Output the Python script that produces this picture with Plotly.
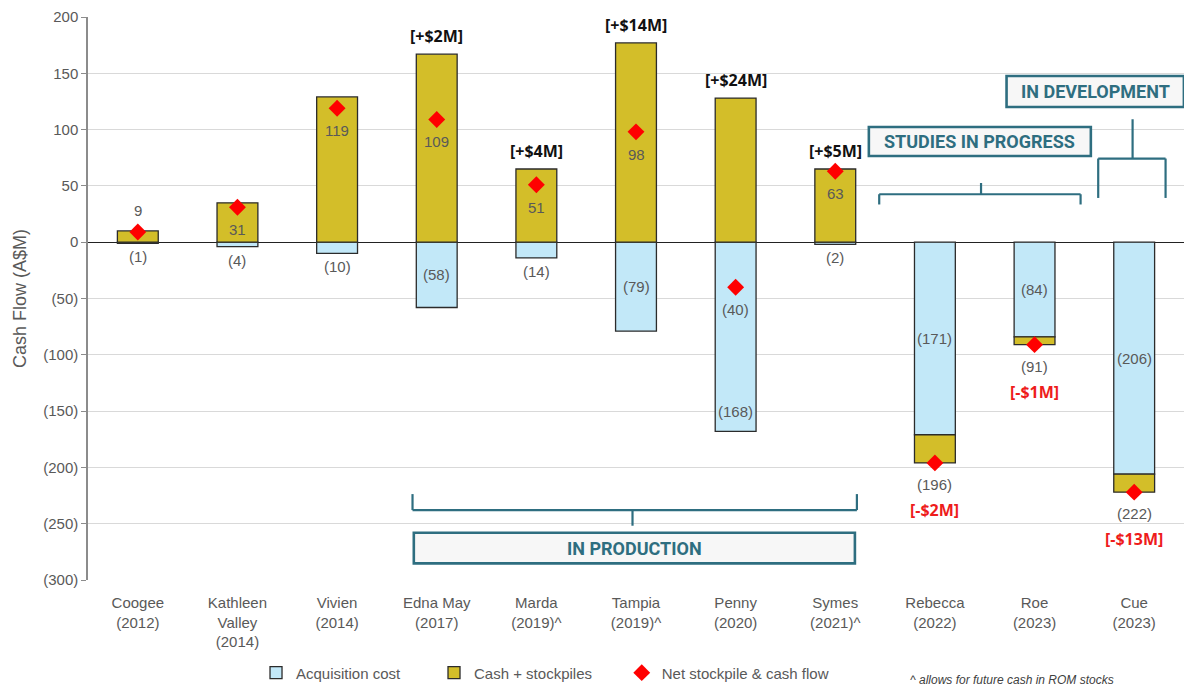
import plotly.graph_objects as go

categories = ["Coogee<br>(2012)", "Kathleen<br>Valley<br>(2014)", "Vivien<br>(2014)", "Edna May<br>(2017)",
              "Marda<br>(2019)^", "Tampia<br>(2019)^", "Penny<br>(2020)", "Symes<br>(2021)^",
              "Rebecca<br>(2022)", "Roe<br>(2023)", "Cue<br>(2023)"]
acquisition = [-1, -4, -10, -58, -14, -79, -168, -2, -171, -84, -206]
cash_stock = [10, 35, 129, 167, 65, 177, 128, 65, -25, -7, -16]
net_flow = [9, 31, 119, 109, 51, 98, -40, 63, -196, -91, -222]
adjustments = ["", "", "", "[+$2M]", "[+$4M]", "[+$14M]", "[+$24M]", "[+$5M]", "[-$2M]", "[-$1M]", "[-$13M]"]
y_ticks = [-300, -250, -200, -150, -100, -50, 0, 50, 100, 150, 200]
y_ticktext = ["(300)", "(250)", "(200)", "(150)", "(100)", "(50)", "0", "50", "100", "150", "200"]

GRAY = "#595959"
TEAL = "#2e6e80"
FONT = "Liberation Sans, Arial, sans-serif"

def fmt(v):
    return "(%d)" % abs(v) if v < 0 else str(v)

idx = list(range(len(categories)))

fig = go.Figure()
fig.add_trace(go.Bar(x=idx, y=acquisition, name="Acquisition cost", width=0.41, legend="legend",
                     marker=dict(color="#c2e8f8", line=dict(color="#2b2b2b", width=1.3))))
fig.add_trace(go.Bar(x=idx, y=cash_stock, name="Cash + stockpiles", width=0.41, legend="legend2",
                     marker=dict(color="#d3be29", line=dict(color="#2b2b2b", width=1.3))))
fig.add_trace(go.Scatter(x=idx, y=net_flow, name="Net stockpile & cash flow", mode="markers", legend="legend3",
                         marker=dict(symbol="diamond", color="#ff0000", size=13)))

ann = []
def lab(x, y, text, **kw):
    d = dict(x=x, y=y, xref="x", yref="y", text=text, showarrow=False,
             font=dict(family=FONT, size=15, color=GRAY), xanchor="center", yanchor="middle")
    d.update(kw)
    ann.append(d)

for i in idx:
    a, c, n = acquisition[i], cash_stock[i], net_flow[i]
    if c > 0:
        if abs(a) < 20:
            lab(i, a - 12, fmt(a))
        elif n < 0:
            lab(i, a + 18, fmt(a))
        else:
            lab(i, a / 2, fmt(a))
        if c < 15:
            lab(i, n + 19, fmt(n))
        else:
            lab(i, n - 20, fmt(n))
        if adjustments[i]:
            lab(i, c + 16, adjustments[i],
                font=dict(family="Open Sans, Liberation Sans, sans-serif", size=16, color="#111111", weight="bold"))
    else:
        lab(i, a / 2, fmt(a))
        lab(i, n - 19, fmt(n))
        if adjustments[i]:
            lab(i, n - 42, adjustments[i],
                font=dict(family="Open Sans, Liberation Sans, sans-serif", size=16, color="#ee1c1c", weight="bold"))

shapes = []
def line(x0, y0, x1, y1):
    shapes.append(dict(type="line", xref="x", yref="y", x0=x0, y0=y0, x1=x1, y1=y1,
                       line=dict(color=TEAL, width=2.2)))

def box(x0, y0, x1, y1, text):
    shapes.append(dict(type="rect", xref="x", yref="y", x0=x0, y0=y0, x1=x1, y1=y1,
                       fillcolor="#f7f7f7", line=dict(color=TEAL, width=2.6)))
    ann.append(dict(x=(x0 + x1) / 2, y=(y0 + y1) / 2, xref="x", yref="y", text=text, showarrow=False,
                    font=dict(family="Roboto, sans-serif", size=18, color=TEAL, weight="bold"),
                    xanchor="center", yanchor="middle"))

# In production bracket
line(2.757, -223.7, 2.757, -237.9)
line(7.217, -223.7, 7.217, -237.9)
line(2.757, -237.9, 7.217, -237.9)
line(4.965, -237.9, 4.965, -251.8)
box(2.77, -258.0, 7.197, -285.2, "IN PRODUCTION")

# Studies bracket
line(7.441, 33.5, 7.441, 42.6)
line(9.462, 33.5, 9.462, 42.6)
line(7.441, 42.6, 9.462, 42.6)
line(8.463, 42.6, 8.463, 52.6)
box(7.337, 76.6, 9.565, 102.3, "STUDIES IN PROGRESS")

# Development bracket
line(9.639, 39.3, 9.639, 74.3)
line(10.315, 39.3, 10.315, 74.3)
line(9.639, 74.3, 10.315, 74.3)
line(9.984, 74.3, 9.984, 109.2)
box(8.719, 120.1, 10.499, 147.6, "IN DEVELOPMENT")

ann.append(dict(x=0.748, y=-0.177, xref="paper", yref="paper", xanchor="left", yanchor="middle",
                text="<i>^ allows for future cash in ROM stocks</i>", showarrow=False,
                font=dict(family=FONT, size=12, color="#404040")))

leg_common = dict(orientation="h", xanchor="left", y=-0.165, yanchor="middle",
                  font=dict(family=FONT, size=15, color=GRAY), bgcolor="rgba(0,0,0,0)")

fig.update_layout(
    width=1187, height=686, barmode="relative", plot_bgcolor="white", paper_bgcolor="white",
    margin=dict(l=88, r=3, t=17, b=106, autoexpand=False),
    font=dict(family=FONT, size=15, color=GRAY),
    showlegend=True,
    legend=dict(x=0.1533, **leg_common),
    legend2=dict(x=0.3157, **leg_common),
    legend3=dict(x=0.487, **leg_common),
    annotations=ann, shapes=shapes,
)
fig.update_xaxes(tickmode="array", tickvals=idx, ticktext=categories, range=[-0.5, 10.5],
                 showgrid=False, showline=False, ticks="", ticklabelstandoff=12,
                 tickfont=dict(size=15, color=GRAY))
fig.update_yaxes(range=[-300, 200], tickvals=y_ticks, ticktext=y_ticktext, showgrid=True,
                 gridcolor="#d9d9d9", gridwidth=1.2, zeroline=True, zerolinecolor="#222222", zerolinewidth=1.3,
                 showline=True, linecolor="#8c8c8c", linewidth=1.5, ticks="outside", ticklen=5,
                 tickcolor="#8c8c8c", tickfont=dict(size=15, color=GRAY),
                 title=dict(text="Cash Flow (A$M)", font=dict(size=18, color=GRAY), standoff=12))
fig.write_html("out.html")
